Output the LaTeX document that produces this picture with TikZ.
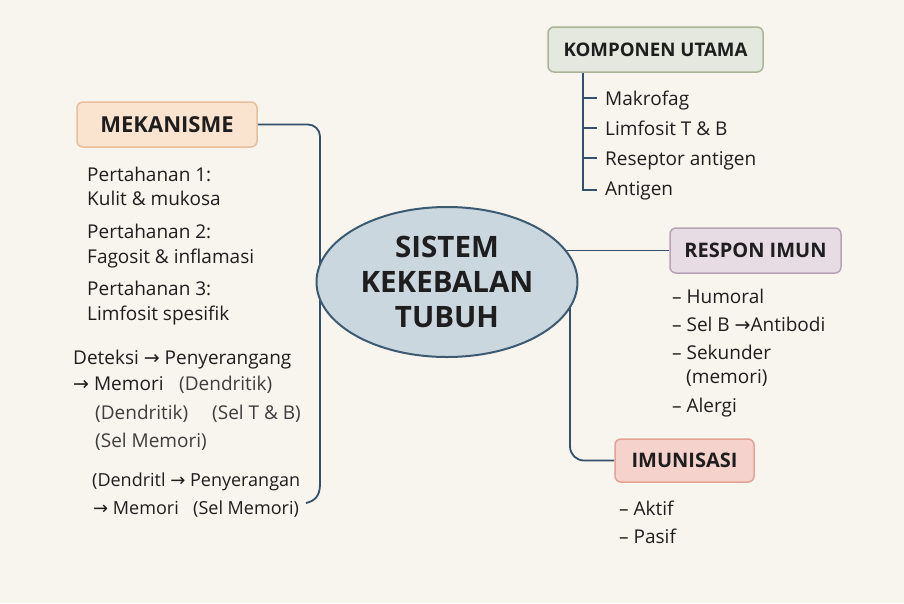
\documentclass[tikz,border=0pt]{standalone}
\usepackage{fontspec}
\setmainfont{Open Sans}
\newfontfamily\symfont{DejaVu Sans}
\newcommand{\rarr}{{\symfont →}}
\usetikzlibrary{shapes.geometric}
\definecolor{bgc}{HTML}{F8F4EE}
\definecolor{txt}{HTML}{1E1E1E}
\definecolor{txtg}{HTML}{3E3E3E}
\definecolor{linec}{HTML}{34506B}
\definecolor{ellf}{HTML}{CBD7DF}
\definecolor{elld}{HTML}{3C5A72}
\definecolor{mekf}{HTML}{FAE3CF}
\definecolor{mekd}{HTML}{E9BF9B}
\definecolor{kompf}{HTML}{E5E8DE}
\definecolor{kompd}{HTML}{A9B597}
\definecolor{respf}{HTML}{E7DCE4}
\definecolor{respd}{HTML}{B8A3B6}
\definecolor{imunf}{HTML}{F5D2CB}
\definecolor{imund}{HTML}{E2A396}
\pgfdeclarelayer{bgl}
\pgfdeclarelayer{lines}
\pgfsetlayers{bgl,lines,main}
\begin{document}
\begin{tikzpicture}[x=1pt,y=-1pt,
  box/.style={rounded corners=6pt, line width=1.5pt, minimum height=45pt, inner sep=0pt,
    font=\fontsize{20}{24}\selectfont\bfseries, text=txt},
  item/.style={anchor=base west, inner sep=0pt, font=\fontsize{19}{23}\selectfont, text=txt},
  itemg/.style={item, text=txtg},
  itemc/.style={item, font=\fontsize{18}{22}\selectfont},
  conn/.style={draw=linec, line width=1.8pt}]
\begin{pgfonlayer}{bgl}
\fill[bgc] (0,0) rectangle (904,603);
\end{pgfonlayer}
\useasboundingbox (0,0) rectangle (904,603);

% central ellipse
\node[ellipse, draw=elld, fill=ellf, line width=2pt, minimum width=261pt, minimum height=150pt,
  inner sep=0pt, align=center, text=txt, font=\fontsize{29.5}{35}\selectfont\bfseries]
  (c) at (447,282) {SISTEM\\KEKEBALAN\\TUBUH};

% boxes
\node[box, fill=mekf, draw=mekd, minimum width=180pt, font=\fontsize{22}{26}\selectfont\bfseries] (mek) at (167,124.5) {MEKANISME};
\node[box, fill=kompf, draw=kompd, minimum width=215pt, font=\fontsize{18.7}{22}\selectfont\bfseries] (komp) at (655.5,49.5) {KOMPONEN UTAMA};
\node[box, fill=respf, draw=respd, minimum width=171pt] (resp) at (755.5,250.5) {RESPON IMUN};
\node[box, fill=imunf, draw=imund, minimum width=139pt, minimum height=43pt] (imun) at (684.5,460.5) {IMUNISASI};

% left items
\node[item] (p1a) at (87,181.5) {Pertahanan 1:};
\node[item] (p1b) at (87,205) {Kulit \& mukosa};
\node[item] (p2a) at (87,238) {Pertahanan 2:};
\node[item] (p2b) at (87,263) {Fagosit \& inflamasi};
\node[item] (p3a) at (87,295) {Pertahanan 3:};
\node[item] (p3b) at (87,320) {Limfosit spesifik};

\node[item] (d1) at (73,364) {Deteksi \rarr{} Penyerangang};
\node[item] (d2) at (73,390) {\rarr{} Memori};
\node[itemg] (d2b) at (179,390) {(Dendritik)};
\node[itemg] (d3) at (95,419) {(Dendritik)};
\node[itemg] (d3b) at (212,419) {(Sel T \& B)};
\node[itemg] (d4) at (95,447) {(Sel Memori)};
\node[itemc] (d5) at (92,486) {(Dendritl \rarr{} Penyerangan};
\node[itemc] (d6) at (93,514) {\rarr{} Memori};
\node[itemc] (d6b) at (193,514) {(Sel Memori)};

% komponen items
\node[item] (k1) at (605,105) {Makrofag};
\node[item] (k2) at (605,135) {Limfosit T \& B};
\node[item] (k3) at (605,165.7) {Reseptor antigen};
\node[item] (k4) at (605,195.7) {Antigen};

% respon items
\node[item] (r1) at (672,303) {– Humoral};
\node[item] (r2) at (672,331) {– Sel B \rarr{}Antibodi};
\node[item] (r3) at (672,359) {– Sekunder};
\node[item] (r4) at (686,383) {(memori)};
\node[item] (r5) at (672,412) {– Alergi};

% imunisasi items
\node[item] (i1) at (619,515) {– Aktif};
\node[item] (i2) at (619,543) {– Pasif};

% connectors
\coordinate (lend) at (306,503);
\coordinate (cb) at (570,282);
\coordinate (kt) at (583,72);
\begin{pgfonlayer}{lines}
\draw[conn, rounded corners=12pt] (mek.east) -- (320,124.5) -- (320,485);
\draw[conn] (320,484) .. controls (320,497) and (314,501) .. (lend);
\draw[conn] (c.center |- resp.west) -- (resp.west);
\draw[conn, rounded corners=14pt] (cb) -- (cb |- imun.west) -- (imun.west);
\draw[conn] (kt) |- (597,190);
\draw[conn] (583,98) -- (597,98);
\draw[conn] (583,128) -- (597,128);
\draw[conn] (583,158) -- (597,158);
\end{pgfonlayer}
\end{tikzpicture}
\end{document}
